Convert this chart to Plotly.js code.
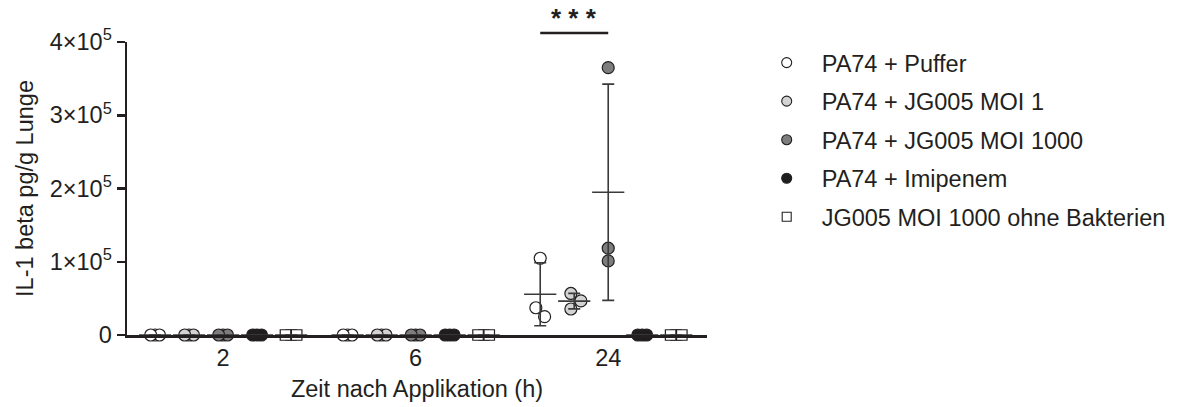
<!DOCTYPE html>
<html>
<head>
<meta charset="utf-8">
<script src="https://cdn.plot.ly/plotly-3.0.1.min.js"></script>
<style>
  html, body { margin: 0; padding: 0; background: #ffffff; }
  #chart { width: 1188px; height: 407px; }
</style>
</head>
<body>
<div id="chart"></div>
<script>
// ---------------- data ----------------
const times = ['2', '6', '24'];
const groupNames = [
  'PA74 + Puffer',
  'PA74 + JG005 MOI 1',
  'PA74 + JG005 MOI 1000',
  'PA74 + Imipenem',
  'JG005 MOI 1000 ohne Bakterien'
];
// replicate values per time point (2 h, 6 h, 24 h), IL-1 beta pg/g lung
const pufferVals   = [[0, 0, 0], [0, 0, 0], [104800, 37200, 25000]];
const moi1Vals     = [[0, 0, 0], [0, 0, 0], [56700, 46500, 35500]];
const moi1000Vals  = [[0, 0, 0], [0, 0, 0], [365000, 118500, 101100]];
const imipenemVals = [[0, 0, 0], [0, 0, 0], [0, 0, 0]];
const ohneVals     = [[0, 0, 0], [0, 0, 0], [0, 0, 0]];
const yTickVals  = [0, 100000, 200000, 300000, 400000];
const yTickText  = ['0', '1×10<sup>5</sup>', '2×10<sup>5</sup>', '3×10<sup>5</sup>', '4×10<sup>5</sup>'];
const sigText = '* * *';

// ---------------- layout geometry & styles ----------------
const allVals = [pufferVals, moi1Vals, moi1000Vals, imipenemVals, ohneVals];
const M = { l: 127, r: 481, t: 42, b: 72 };
const plotW = 1188 - M.l - M.r, plotH = 407 - M.t - M.b;
const xRange = [-0.499, 2.513];
const yRange = [0, 400000];
const pxPerX = plotW / (xRange[1] - xRange[0]);
const pxPerY = plotH / (yRange[1] - yRange[0]);
const groupOffsetPx = [-68, -34, 0, 34, 68];
const ink = '#231f20';
const styles = [
  { symbol: 'circle', color: '#ffffff', size: 12, step: 4.4 },
  { symbol: 'circle', color: '#d3d3d3', size: 12, step: 4.4 },
  { symbol: 'circle', color: '#7d7d7d', size: 12, step: 4.4 },
  { symbol: 'circle', color: '#1e1e1e', size: 12, step: 4.4 },
  { symbol: 'square', color: '#ffffff', size: 10.5, step: 5.6 }
];
const swarmD = 12.5;

// deterministic beeswarm (pixel offsets) for one group of replicates
function swarm(vals, D, step) {
  const n = vals.length;
  const order = vals.map((v, i) => i).sort((a, b) => vals[b] - vals[a]);
  const placed = [];
  const off = new Array(n).fill(0);
  for (const i of order) {
    const y = vals[i] * pxPerY;
    const ok = dx => placed.every(p => {
      const dy = Math.abs(p.y - y);
      if (dy < 1) return Math.abs(dx - p.x) >= step - 1e-6;
      return (dx - p.x) ** 2 + dy * dy >= D * D - 1e-6;
    });
    const cands = [0];
    placed.forEach(p => {
      const dy = Math.abs(p.y - y);
      if (dy < 1) cands.push(p.x + step, p.x - step);
      else if (dy < D) { const h = Math.sqrt(D * D - dy * dy); cands.push(p.x + h, p.x - h); }
    });
    cands.sort((a, b) => (Math.abs(a) - Math.abs(b)) || (b - a));
    const dx = cands.find(ok);
    off[i] = dx;
    placed.push({ x: dx, y: y, i: i });
  }
  // centre each chain of overlapping points
  const byY = placed.slice().sort((a, b) => a.y - b.y);
  let cluster = [byY[0]];
  const flush = c => {
    const m = c.reduce((s, p) => s + p.x, 0) / c.length;
    c.forEach(p => { off[p.i] = p.x - m; });
  };
  for (let k = 1; k < byY.length; k++) {
    if (byY[k].y - byY[k - 1].y < D) cluster.push(byY[k]);
    else { flush(cluster); cluster = [byY[k]]; }
  }
  flush(cluster);
  return off;
}

const mean = a => a.reduce((s, v) => s + v, 0) / a.length;
const sd = a => { const m = mean(a); return Math.sqrt(a.reduce((s, v) => s + (v - m) ** 2, 0) / (a.length - 1)); };

const traces = [];
// data points
allVals.forEach((gv, g) => {
  const xs = [], ys = [];
  gv.forEach((reps, t) => {
    const off = swarm(reps, swarmD, styles[g].step);
    reps.forEach((v, i) => {
      xs.push(t + (groupOffsetPx[g] + off[i]) / pxPerX);
      ys.push(v);
    });
  });
  traces.push({
    type: 'scatter', mode: 'markers', x: xs, y: ys, showlegend: false,
    cliponaxis: false, hoverinfo: 'y',
    marker: { symbol: styles[g].symbol, color: styles[g].color, size: styles[g].size,
              line: { color: ink, width: 1.2 } }
  });
});
// mean ± SD
allVals.forEach((gv, g) => {
  const xs = [], ys = [], es = [];
  gv.forEach((reps, t) => {
    xs.push(t + groupOffsetPx[g] / pxPerX);
    ys.push(mean(reps));
    es.push(sd(reps));
  });
  traces.push({
    type: 'scatter', mode: 'markers', x: xs, y: ys, showlegend: false,
    cliponaxis: false, hoverinfo: 'skip',
    marker: { symbol: 'line-ew', size: 23, color: '#3a3a3a', line: { color: '#3a3a3a', width: 1.6 } },
    error_y: { type: 'data', array: es, visible: true, color: '#3a3a3a', thickness: 1.6, width: 6 }
  });
});
// legend entries
groupNames.forEach((name, g) => {
  traces.push({
    type: 'scatter', mode: 'markers', x: [null], y: [null], name: name,
    legendgroup: 'g' + g, showlegend: true,
    marker: { symbol: styles[g].symbol, color: styles[g].color,
              size: styles[g].symbol === 'square' ? 9 : 10, line: { color: ink, width: 1.1 } }
  });
});

const fontFam = 'Liberation Sans, Arial, Helvetica, sans-serif';
const layout = {
  width: 1188, height: 407,
  margin: M,
  paper_bgcolor: '#ffffff', plot_bgcolor: '#ffffff',
  font: { family: fontFam, size: 23.5, color: ink },
  showlegend: true,
  legend: {
    x: (751.7 - M.l) / plotW, xanchor: 'left',
    y: 1.004, yanchor: 'top',
    traceorder: 'grouped', tracegroupgap: 5,
    itemwidth: 60,
    font: { family: fontFam, size: 23.5, color: ink },
    bgcolor: 'rgba(0,0,0,0)'
  },
  xaxis: {
    range: xRange, showgrid: false, zeroline: false,
    showline: true, linecolor: ink, linewidth: 2.5,
    tickmode: 'array', tickvals: times.map((t, i) => i), ticktext: times,
    ticks: '', ticklabelstandoff: 2.5,
    tickfont: { size: 23.5, color: ink },
    title: { text: 'Zeit nach Applikation (h)', font: { size: 23.5, color: ink }, standoff: 11 }
  },
  yaxis: {
    range: yRange, showgrid: false, zeroline: false,
    showline: true, linecolor: ink, linewidth: 2.5,
    tickmode: 'array', tickvals: yTickVals, ticktext: yTickText,
    ticks: 'outside', ticklen: 8, tickwidth: 2.5, tickcolor: ink,
    tickfont: { size: 23.5, color: ink },
    title: { text: 'IL-1 beta pg/g Lunge', font: { size: 23.5, color: ink }, standoff: 10 }
  },
  shapes: [{
    type: 'line', xref: 'x', yref: 'paper',
    x0: 2 + groupOffsetPx[0] / pxPerX, x1: 2 + groupOffsetPx[2] / pxPerX,
    y0: 1.031, y1: 1.031, line: { color: ink, width: 2.5 }
  }],
  annotations: [{
    xref: 'x', yref: 'paper', x: 2 + groupOffsetPx[1] / pxPerX, y: 1.025,
    xanchor: 'center', yanchor: 'bottom', showarrow: false,
    text: sigText, font: { family: fontFam, size: 26, color: ink, weight: 'bold' }
  }]
};

Plotly.newPlot('chart', traces, layout, { displayModeBar: false, staticPlot: true });
</script>
</body>
</html>
